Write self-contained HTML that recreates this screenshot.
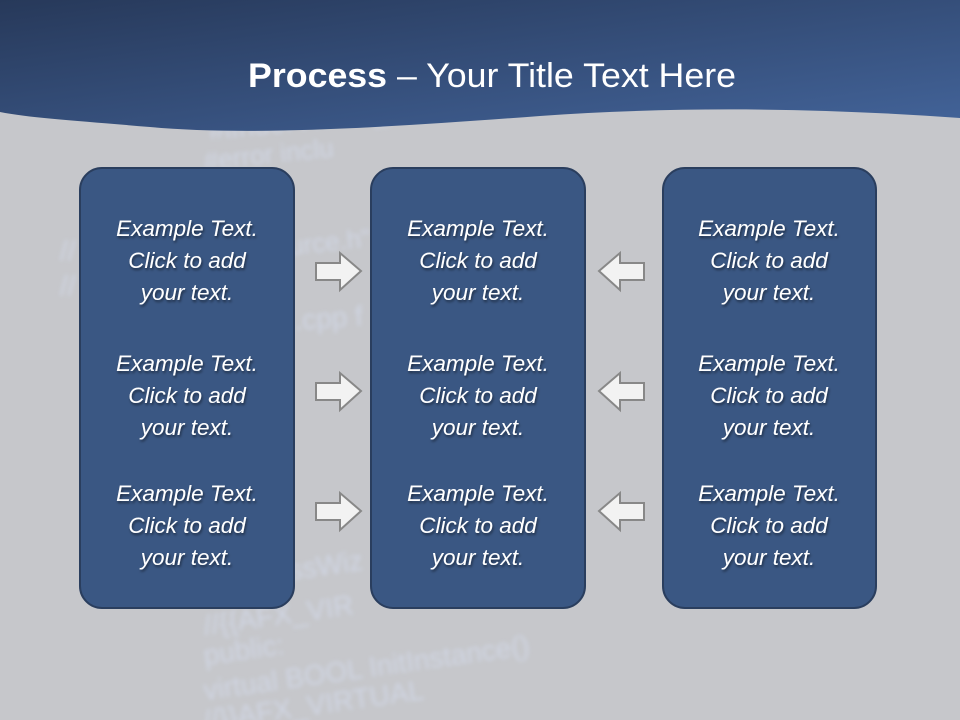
<!DOCTYPE html>
<html><head><meta charset="utf-8"><style>
html,body{margin:0;padding:0;width:960px;height:720px;overflow:hidden;background:#c6c7cb}
.t{font-family:"Liberation Sans",sans-serif;font-style:italic;fill:#fff;font-size:22.5px;text-anchor:middle}
.c{font-family:"Liberation Sans",sans-serif;fill:#dbe6fb;opacity:.5}
</style></head><body>
<svg width="960" height="720" viewBox="0 0 960 720" xmlns="http://www.w3.org/2000/svg">
<defs>
<linearGradient id="hd" x1="0" y1="0" x2="1" y2="1">
<stop offset="0" stop-color="#27395a"/><stop offset="1" stop-color="#43649a"/>
</linearGradient>
<filter id="bl"><feGaussianBlur stdDeviation="2"/></filter>
<filter id="sh"><feDropShadow dx="1" dy="2" stdDeviation="1.2" flood-color="#000" flood-opacity=".5"/></filter>
</defs>
<rect width="960" height="720" fill="#c6c7cb"/>
<g filter="url(#bl)">
<text class="c" x="210" y="140" font-size="28" transform="rotate(-6 210 140)">#ifndef XWIN_H</text>
<text class="c" x="205" y="170" font-size="26" transform="rotate(-6 205 170)">#error inclu</text>
<text class="c" x="60" y="260" font-size="28">//</text>
<text class="c" x="60" y="295" font-size="28">//</text>
<text class="c" x="290" y="255" font-size="26" transform="rotate(-6 290 255)">urce.h"</text>
<text class="c" x="295" y="330" font-size="28" transform="rotate(-4 295 330)">.cpp f</text>
<text class="c" x="290" y="580" font-size="28" transform="rotate(-8 290 580)">ssWiz</text>
<text class="c" x="205" y="635" font-size="28" transform="rotate(-8 205 635)">//{{AFX_VIR</text>
<text class="c" x="205" y="665" font-size="28" transform="rotate(-8 205 665)">public:</text>
<text class="c" x="205" y="700" font-size="28" transform="rotate(-8 205 700)">virtual BOOL InitInstance()</text>
<text class="c" x="205" y="730" font-size="28" transform="rotate(-8 205 730)">//}}AFX_VIRTUAL</text>
</g>
<path d="M0 0H960V118C820 108 680 106 540 116C380 128 250 136 150 127C80 121 30 118 0 112Z" fill="url(#hd)"/>
<text x="492" y="87" text-anchor="middle" font-family="Liberation Sans,sans-serif" font-size="34" fill="#fff" textLength="488" lengthAdjust="spacingAndGlyphs"><tspan font-weight="bold">Process</tspan> – Your Title Text Here</text>
<g fill="#3a5783" stroke="#2a3e5e" stroke-width="2">
<rect x="80" y="168" width="214" height="440" rx="22"/>
<rect x="371" y="168" width="214" height="440" rx="22"/>
<rect x="663" y="168" width="213" height="440" rx="22"/>
</g>
<g fill="#f2f2f2" stroke="#888" stroke-width="2">
<path d="M316 263H340V253L361 271L340 290V280H316Z"/>
<path d="M316 383H340V373L361 391L340 410V400H316Z"/>
<path d="M316 503H340V493L361 511L340 530V520H316Z"/>
<path d="M644 263H620V253L599 271L620 290V280H644Z"/>
<path d="M644 383H620V373L599 391L620 410V400H644Z"/>
<path d="M644 503H620V493L599 511L620 530V520H644Z"/>
</g>
<g filter="url(#sh)">
<text x="187" y="236" class="t">Example Text.</text><text x="187" y="268" class="t">Click  to add</text><text x="187" y="300" class="t">your text.</text>
<text x="187" y="371" class="t">Example Text.</text><text x="187" y="403" class="t">Click  to add</text><text x="187" y="435" class="t">your text.</text>
<text x="187" y="501" class="t">Example Text.</text><text x="187" y="533" class="t">Click  to add</text><text x="187" y="565" class="t">your text.</text>
<text x="478" y="236" class="t">Example Text.</text><text x="478" y="268" class="t">Click  to add</text><text x="478" y="300" class="t">your text.</text>
<text x="478" y="371" class="t">Example Text.</text><text x="478" y="403" class="t">Click  to add</text><text x="478" y="435" class="t">your text.</text>
<text x="478" y="501" class="t">Example Text.</text><text x="478" y="533" class="t">Click  to add</text><text x="478" y="565" class="t">your text.</text>
<text x="769" y="236" class="t">Example Text.</text><text x="769" y="268" class="t">Click  to add</text><text x="769" y="300" class="t">your text.</text>
<text x="769" y="371" class="t">Example Text.</text><text x="769" y="403" class="t">Click  to add</text><text x="769" y="435" class="t">your text.</text>
<text x="769" y="501" class="t">Example Text.</text><text x="769" y="533" class="t">Click  to add</text><text x="769" y="565" class="t">your text.</text>
</g>
</svg>
</body></html>
